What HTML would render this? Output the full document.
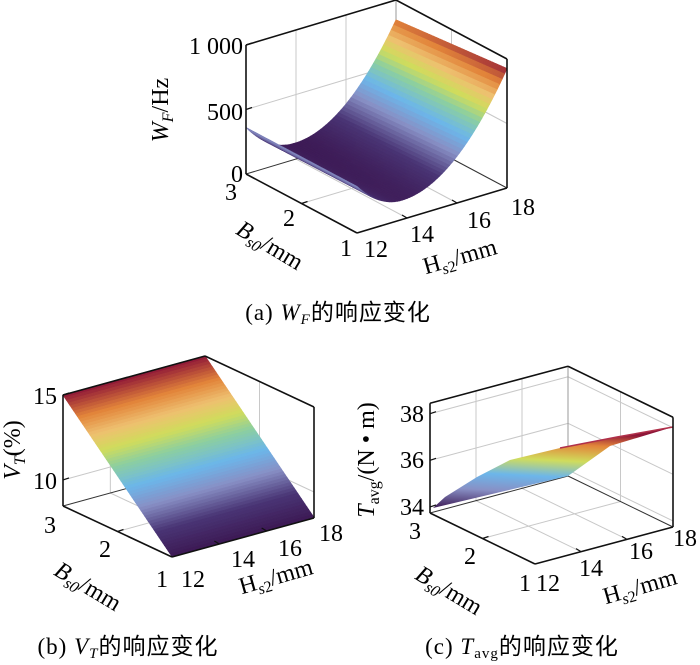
<!DOCTYPE html>
<html><head><meta charset="utf-8">
<style>
body{margin:0;background:#fff;width:700px;height:665px;overflow:hidden}
svg{position:absolute;left:0;top:0}
text{font-family:"Liberation Serif","Noto Serif CJK SC",serif;fill:#000}
.cap{font-family:"Liberation Serif","Noto Sans CJK SC",sans-serif;letter-spacing:1px}
</style></head><body>
<svg id="s" width="700" height="665" xmlns="http://www.w3.org/2000/svg">
<defs>
<linearGradient id="gc" x1="0" y1="1" x2="0.15" y2="0">
<stop offset="0" stop-color="#3d1a55"/><stop offset="0.25" stop-color="#8890c5"/><stop offset="0.45" stop-color="#6cb6ea"/><stop offset="0.65" stop-color="#d0dc5c"/><stop offset="0.85" stop-color="#e2843a"/><stop offset="1" stop-color="#8e1638"/>
</linearGradient>
</defs>
<g id="g"></g>
<g font-size="24">
<text x="243" y="54" text-anchor="end">1 000</text>
<text x="243" y="120" text-anchor="end">500</text>
<text x="243" y="182" text-anchor="end">0</text>
<text x="231" y="200" text-anchor="middle">3</text>
<text x="289" y="226" text-anchor="middle">2</text>
<text x="346" y="256" text-anchor="middle">1</text>
<text x="376" y="257" text-anchor="middle">12</text>
<text x="422" y="242" text-anchor="middle">14</text>
<text x="479" y="228" text-anchor="middle">16</text>
<text x="523" y="215" text-anchor="middle">18</text>
<text transform="translate(168,110) rotate(-90)" text-anchor="middle"><tspan font-style="italic">W</tspan><tspan font-style="italic" font-size="16" dy="5">F</tspan><tspan dy="-5">/Hz</tspan></text>
<text transform="translate(266,252) rotate(31)" text-anchor="middle"><tspan font-style="italic">B</tspan><tspan font-style="italic" font-size="16" dy="5">s0</tspan><tspan dy="-5">/mm</tspan></text>
<text transform="translate(462,264) rotate(-16)" text-anchor="middle"><tspan>H</tspan><tspan font-style="italic" font-size="16" dy="5">s</tspan><tspan font-size="16">2</tspan><tspan dy="-5">/mm</tspan></text>
<text class="cap" x="338" y="320" text-anchor="middle" font-size="23">(a) <tspan font-style="italic">W</tspan><tspan font-style="italic" font-size="15" dy="4">F</tspan><tspan dy="-4">的响应变化</tspan></text>

<text x="57" y="404" text-anchor="end">15</text>
<text x="57" y="489" text-anchor="end">10</text>
<text x="50" y="533" text-anchor="middle">3</text>
<text x="105" y="557" text-anchor="middle">2</text>
<text x="162" y="587" text-anchor="middle">1</text>
<text x="193" y="587" text-anchor="middle">12</text>
<text x="243" y="567" text-anchor="middle">14</text>
<text x="290" y="556" text-anchor="middle">16</text>
<text x="331" y="541" text-anchor="middle">18</text>
<text transform="translate(20,450) rotate(-90)" text-anchor="middle"><tspan font-style="italic">V</tspan><tspan font-style="italic" font-size="16" dy="5">T</tspan><tspan dy="-5">(%)</tspan></text>
<text transform="translate(84,593) rotate(31)" text-anchor="middle"><tspan font-style="italic">B</tspan><tspan font-style="italic" font-size="16" dy="5">s0</tspan><tspan dy="-5">/mm</tspan></text>
<text transform="translate(278,584) rotate(-16)" text-anchor="middle"><tspan>H</tspan><tspan font-style="italic" font-size="16" dy="5">s</tspan><tspan font-size="16">2</tspan><tspan dy="-5">/mm</tspan></text>
<text class="cap" x="128" y="654" text-anchor="middle" font-size="23">(b) <tspan font-style="italic">V</tspan><tspan font-style="italic" font-size="15" dy="4">T</tspan><tspan dy="-4">的响应变化</tspan></text>

<text x="424" y="422" text-anchor="end">38</text>
<text x="424" y="468" text-anchor="end">36</text>
<text x="424" y="515" text-anchor="end">34</text>
<text x="415" y="539" text-anchor="middle">3</text>
<text x="470" y="564" text-anchor="middle">2</text>
<text x="525" y="591" text-anchor="middle">1</text>
<text x="548" y="591" text-anchor="middle">12</text>
<text x="591" y="576" text-anchor="middle">14</text>
<text x="641" y="559" text-anchor="middle">16</text>
<text x="685" y="546" text-anchor="middle">18</text>
<text transform="translate(374,460) rotate(-90)" text-anchor="middle"><tspan font-style="italic">T</tspan><tspan font-size="16" dy="5">avg</tspan><tspan dy="-5">/(N • m)</tspan></text>
<text transform="translate(445,597) rotate(31)" text-anchor="middle"><tspan font-style="italic">B</tspan><tspan font-style="italic" font-size="16" dy="5">s0</tspan><tspan dy="-5">/mm</tspan></text>
<text transform="translate(642,594) rotate(-16)" text-anchor="middle"><tspan>H</tspan><tspan font-style="italic" font-size="16" dy="5">s</tspan><tspan font-size="16">2</tspan><tspan dy="-5">/mm</tspan></text>
<text class="cap" x="522" y="654" text-anchor="middle" font-size="23">(c) <tspan font-style="italic">T</tspan><tspan font-size="15" dy="4">avg</tspan><tspan dy="-4">的响应变化</tspan></text>
</g>
</svg>
<script>
var NS="http://www.w3.org/2000/svg",G=document.getElementById('g');
function el(n,a){var e=document.createElementNS(NS,n);for(var k in a)e.setAttribute(k,a[k]);G.appendChild(e);return e;}
var stops=[[0,[61,26,85]],[0.15,[74,53,117]],[0.3,[136,144,197]],[0.42,[108,182,234]],[0.55,[140,207,160]],[0.65,[208,220,92]],[0.75,[238,192,112]],[0.86,[226,132,58]],[1,[142,22,56]]];
function cmap(t){t=Math.max(0,Math.min(1,t));for(var i=1;i<stops.length;i++){if(t<=stops[i][0]){var a=stops[i-1],b=stops[i],f=(t-a[0])/(b[0]-a[0]);var c=a[1].map(function(v,j){return Math.round(v+(b[1][j]-v)*f)});return 'rgb('+c+')';}}return 'rgb(142,22,56)';}
function plot(P){
 function pr(b,h,z){var fb=(b-1)/2,fh=(h-12)/6;return [P.f[0]+(P.l[0]-P.f[0])*fb+(P.r[0]-P.f[0])*fh,P.f[1]+(P.l[1]-P.f[1])*fb+(P.r[1]-P.f[1])*fh-(z-P.zmin)*P.k];}
 function line(a,b,st,w){el('line',{x1:a[0],y1:a[1],x2:b[0],y2:b[1],stroke:st,'stroke-width':w||1});}
 var gc='#c8c8c8';
 P.zt.forEach(function(z){line(pr(3,12,z),pr(3,18,z),gc);line(pr(3,18,z),pr(1,18,z),gc);});
 [14,16].forEach(function(h){line(pr(3,h,P.zmin),pr(3,h,P.top),gc);line(pr(3,h,P.zmin),pr(1,h,P.zmin),gc);});
 line(pr(2,18,P.zmin),pr(2,18,P.top),gc);line(pr(2,12,P.zmin),pr(2,18,P.zmin),gc);
 line(pr(3,18,P.zmin),pr(3,18,P.top),'#999');
 line(pr(3,12,P.zmin),pr(3,18,P.zmin),'#333');line(pr(3,18,P.zmin),pr(1,18,P.zmin),'#333');
 if(P.fn){var N=60,q=[];for(var i=0;i<N;i++)for(var j=0;j<N;j++){var b0=1+2*i/N,b1=1+2*(i+1)/N,h0=12+6*j/N,h1=12+6*(j+1)/N;q.push([b0,b1,h0,h1,(i+j)]);}
 q.sort(function(a,b){return b[4]-a[4];});
 q.forEach(function(Q){var bm=(Q[0]+Q[1])/2,hm=(Q[2]+Q[3])/2;var pts=[pr(Q[0],Q[2],P.fn(Q[0],Q[2])),pr(Q[1],Q[2],P.fn(Q[1],Q[2])),pr(Q[1],Q[3],P.fn(Q[1],Q[3])),pr(Q[0],Q[3],P.fn(Q[0],Q[3]))];var c=cmap(P.cf(bm,hm));el('polygon',{points:pts.map(function(p){return p.join(',')}).join(' '),fill:c,stroke:c,'stroke-width':0.8});});}
 if(P.custom)P.custom();
 var k='#111';
 line(pr(3,12,P.zmin),pr(3,12,P.top),k,1.6);line(pr(1,18,P.zmin),pr(1,18,P.top),k,1.6);
 line(pr(3,12,P.top),pr(3,18,P.top),k,1.6);line(pr(3,18,P.top),pr(1,18,P.top),k,1.6);
 line(pr(3,12,P.zmin),pr(1,12,P.zmin),k,1.6);line(pr(1,12,P.zmin),pr(1,18,P.zmin),k,1.6);
 P.zt.forEach(function(z){var a=pr(3,12,z);line(a,[a[0]+6,a[1]-2],k,1.2);});
 [14,16].forEach(function(h){var a=pr(1,h,P.zmin);line(a,[a[0]-5,a[1]-3],k,1.2);});
 var a=pr(2,12,P.zmin);line(a,[a[0]+6,a[1]-2],k,1.2);
}
function wb(h){return h<13.8?150+65*(h-13.8)*(h-13.8):150+44*(h-13.8)*(h-13.8);}
plot({f:[357,233],l:[246,174],r:[507,188],zmin:0,k:0.129,top:1000,zt:[500,1000],
 fn:function(b,h){return wb(h)-40*(b-1)*(h-12)/6;},cf:function(b,h){var z=wb(h)-40*(b-1)*(h-12)/6;return (z-120)/820;}});
plot({f:[172,557],l:[63,506],r:[314,518],zmin:8.47,k:17,top:15,zt:[10,15],
 fn:function(b,h){return 8.5+3.25*(b-1);},cf:function(b,h){return (b-1)/2;}});
plot({f:[535,564],l:[430,513],r:[673,527],zmin:33.74,k:23.3,top:38.45,zt:[34,36,38],
 custom:function(){el('path',{d:'M433,508 L568,476 L610,446 L673,427 L617,437 L560,448 L510,460 L477,477 L445,497 Z',fill:'url(#gc)',stroke:'none'});
 el('path',{d:'M560,448 L617,437 L673,427',fill:'none',stroke:'#b0304a','stroke-width':1.5});}});
</script>
</body></html>
